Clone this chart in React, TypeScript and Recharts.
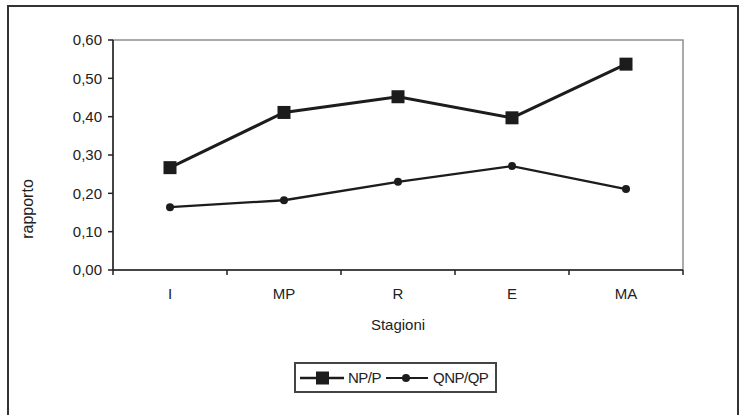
import React from 'react';
import { ComposedChart, Line, XAxis, YAxis, ReferenceArea, Legend, Label } from 'recharts';

const categories = ['I', 'MP', 'R', 'E', 'MA'];
const npP = [0.267, 0.411, 0.452, 0.397, 0.537];
const qnpQp = [0.164, 0.182, 0.23, 0.271, 0.211];
const yTicks = [0, 0.1, 0.2, 0.3, 0.4, 0.5, 0.6];
const seriesNames = ['NP/P', 'QNP/QP'];

// category i sits at the middle of band [i, i+1]; band edges carry tick marks
const data = categories.map((c, i) => ({ cat: c, pos: i + 0.5, np: npP[i], qnp: qnpQp[i] }));
const xTicks: number[] = [];
for (let i = 0; i <= categories.length; i++) {
  xTicks.push(i);
  if (i < categories.length) xTicks.push(i + 0.5);
}

const FONT = '"Liberation Sans", Arial, sans-serif';
const INK = '#1c1c1c';

const BottomTick = (props: any) => {
  const { x, y, payload } = props;
  const v = payload.value as number;
  if (Number.isInteger(v)) {
    return <line x1={x} y1={y} x2={x} y2={y + 5} stroke="#222" strokeWidth={1.5} />;
  }
  const label = categories[Math.floor(v)];
  return (
    <text x={x} y={y + 29} textAnchor="middle" fontFamily={FONT} fontSize={15} fill="#222">
      {label}
    </text>
  );
};

const SquareDot = (props: any) => {
  const { cx, cy } = props;
  if (cx == null || cy == null) return <g />;
  return <rect x={cx - 6.5} y={cy - 6.5} width={13} height={13} fill={INK} />;
};

const CircleDot = (props: any) => {
  const { cx, cy } = props;
  if (cx == null || cy == null) return <g />;
  return <circle cx={cx} cy={cy} r={4} fill={INK} />;
};

const RapportoLabel = (props: any) => {
  const vb = props.viewBox || { x: 53, y: 40, width: 60, height: 230 };
  const x = vb.x - 26;
  const y = vb.y + vb.height / 2 + 54;
  return (
    <text
      x={x}
      y={y}
      transform={`rotate(-90, ${x}, ${y})`}
      textAnchor="middle"
      dominantBaseline="central"
      fontFamily={FONT}
      fontSize={16}
      fill="#222"
    >
      rapporto
    </text>
  );
};

const LegendBox = () => (
  <div
    style={{
      boxSizing: 'border-box',
      width: 203,
      height: 31,
      border: '2px solid #444',
      display: 'flex',
      alignItems: 'center',
      paddingLeft: 4,
      fontFamily: FONT,
      fontSize: 15,
      color: '#222',
      background: '#fff',
    }}
  >
    <svg width={44} height={16} style={{ display: 'block' }}>
      <line x1={0} y1={8} x2={44} y2={8} stroke={INK} strokeWidth={2.5} />
      <rect x={16} y={1.5} width={13} height={13} fill={INK} />
    </svg>
    <span style={{ marginLeft: 4, marginRight: 5, letterSpacing: -0.5 }}>{seriesNames[0]}</span>
    <svg width={42} height={16} style={{ display: 'block' }}>
      <line x1={0} y1={8} x2={42} y2={8} stroke={INK} strokeWidth={2} />
      <circle cx={20} cy={8} r={4} fill={INK} />
    </svg>
    <span style={{ marginLeft: 5, letterSpacing: -0.5 }}>{seriesNames[1]}</span>
  </div>
);

export default function App() {
  return (
    <div
      style={{
        position: 'absolute',
        left: 0,
        top: 0,
        width: 740,
        height: 415,
        overflow: 'hidden',
        background: '#fff',
      }}
    >
      <div
        style={{
          position: 'absolute',
          left: 7,
          top: 5,
          width: 732,
          height: 430,
          boxSizing: 'border-box',
          border: '2px solid #333',
        }}
      />
      <div style={{ position: 'absolute', left: 0, top: 0 }}>
        <ComposedChart
          width={740}
          height={415}
          data={data}
          margin={{ top: 40, right: 57, left: 53, bottom: 77 }}
        >
          <ReferenceArea y1={0} y2={0.6} stroke="#8f8f8f" strokeWidth={1.5} fill="none" ifOverflow="visible" />
          <XAxis
            dataKey="pos"
            type="number"
            domain={[0, categories.length]}
            ticks={xTicks}
            interval={0}
            allowDataOverflow
            height={68}
            tickSize={0}
            tickMargin={0}
            tickLine={false}
            tick={BottomTick}
            axisLine={{ stroke: '#222', strokeWidth: 1.5 }}
          >
            <Label
              value="Stagioni"
              position="insideBottom"
              offset={8}
              style={{ fontFamily: FONT, fontSize: 15, fill: '#222' }}
            />
          </XAxis>
          <YAxis
            width={60}
            domain={[0, 0.6]}
            ticks={yTicks}
            interval={0}
            tickSize={5}
            tickMargin={6}
            tickFormatter={(v: number) => v.toFixed(2).replace('.', ',')}
            tick={{ fontFamily: FONT, fontSize: 15, fill: '#222' }}
            axisLine={{ stroke: '#222', strokeWidth: 1.5 }}
            tickLine={{ stroke: '#222', strokeWidth: 1.5 }}
          >
            <Label content={RapportoLabel} />
          </YAxis>
          <Line
            dataKey="np"
            name={seriesNames[0]}
            stroke={INK}
            strokeWidth={3}
            dot={SquareDot}
            activeDot={false}
            isAnimationActive={false}
          />
          <Line
            dataKey="qnp"
            name={seriesNames[1]}
            stroke={INK}
            strokeWidth={2.3}
            dot={CircleDot}
            activeDot={false}
            isAnimationActive={false}
          />
          <Legend
            layout="vertical"
            align="center"
            verticalAlign="middle"
            content={LegendBox}
            wrapperStyle={{ position: 'absolute', left: 294, top: 362, width: 203, height: 31 }}
          />
        </ComposedChart>
      </div>
    </div>
  );
}
